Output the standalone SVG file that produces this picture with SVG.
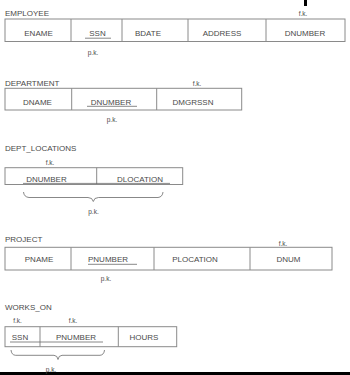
<svg xmlns="http://www.w3.org/2000/svg" width="350" height="375" viewBox="0 0 350 375">
<style>
text{font-family:"Liberation Sans",Arial,sans-serif;font-size:8px;fill:#4a4a4a}
.s{font-size:6.5px}
.c{text-anchor:middle}
.b{fill:none;stroke:#8a8a8a;stroke-width:1}
.u{stroke:#6a6a6a;stroke-width:0.8;fill:none}
</style>
<rect width="350" height="375" fill="#fff"/>
<rect x="304" y="0" width="3" height="6" fill="#000"/>
<rect x="0" y="372" width="350" height="3" fill="#000"/>

<g id="employee">
<text x="5" y="15.5">EMPLOYEE</text>
<text class="s c" x="303" y="16">f.k.</text>
<rect class="b" x="5" y="19" width="340" height="22.5"/>
<path class="b" d="M71 19V41.5M122 19V41.5M188 19V41.5M266 19V41.5"/>
<text class="c" x="38.5" y="36">ENAME</text>
<text class="c" x="97.5" y="36">SSN</text>
<text class="c" x="148" y="36">BDATE</text>
<text class="c" x="222" y="36">ADDRESS</text>
<text class="c" x="305" y="36">DNUMBER</text>
<path class="u" d="M85 38.2H111"/>
<text class="s c" x="93" y="55">p.k.</text>
</g>

<g id="department">
<text x="5" y="85.5">DEPARTMENT</text>
<text class="s c" x="197" y="86">f.k.</text>
<rect class="b" x="5" y="88.3" width="236.7" height="21.7"/>
<path class="b" d="M71.7 88.3V110M156.7 88.3V110"/>
<text class="c" x="37.5" y="104.5">DNAME</text>
<text class="c" x="111" y="104.5">DNUMBER</text>
<text class="c" x="193" y="104.5">DMGRSSN</text>
<path class="u" d="M87 106.3H137"/>
<text class="s c" x="112" y="122">p.k.</text>
</g>

<g id="dept_locations">
<text x="5" y="151">DEPT_LOCATIONS</text>
<text class="s c" x="50" y="164.5">f.k.</text>
<rect class="b" x="5" y="167.7" width="177.7" height="16.8"/>
<path class="b" d="M96.7 167.7V184.5"/>
<text class="c" x="46.5" y="182.3">DNUMBER</text>
<text class="c" x="140" y="182.3">DLOCATION</text>
<path class="u" d="M23 183.4H170"/>
<path class="u" d="M23.5 192Q24 197 29 197.5H88Q92.5 197.5 93.3 201.5Q94 197.5 98.5 197.5H158Q162.5 197 163 192"/>
<text class="s c" x="93.5" y="214">p.k.</text>
</g>

<g id="project">
<text x="5" y="242">PROJECT</text>
<text class="s c" x="283" y="246">f.k.</text>
<rect class="b" x="5" y="247.3" width="327" height="22.7"/>
<path class="b" d="M71 247.3V270M154 247.3V270M250 247.3V270"/>
<text class="c" x="39" y="262">PNAME</text>
<text class="c" x="108" y="262">PNUMBER</text>
<text class="c" x="195" y="262">PLOCATION</text>
<text class="c" x="288.5" y="262">DNUM</text>
<path class="u" d="M88 264.3H137"/>
<text class="s c" x="106" y="280.5">p.k.</text>
</g>

<g id="works_on">
<text x="5" y="309.5">WORKS_ON</text>
<text class="s c" x="17.5" y="322.5">f.k.</text>
<text class="s c" x="73" y="322.5">f.k.</text>
<rect class="b" x="5" y="326.7" width="171.7" height="20"/>
<path class="b" d="M40 326.7V346.7M118.3 326.7V346.7"/>
<text class="c" x="20" y="340">SSN</text>
<text class="c" x="76" y="340">PNUMBER</text>
<text class="c" x="144" y="340">HOURS</text>
<path class="u" d="M10 342H103"/>
<path class="u" d="M11 350Q11.5 355 15.5 355.3H54Q57.5 355.5 58 359.5Q58.5 355.5 62 355.3H100Q104 355 104.5 350"/>
<text class="s c" x="51" y="371.5">p.k.</text>
</g>
</svg>
